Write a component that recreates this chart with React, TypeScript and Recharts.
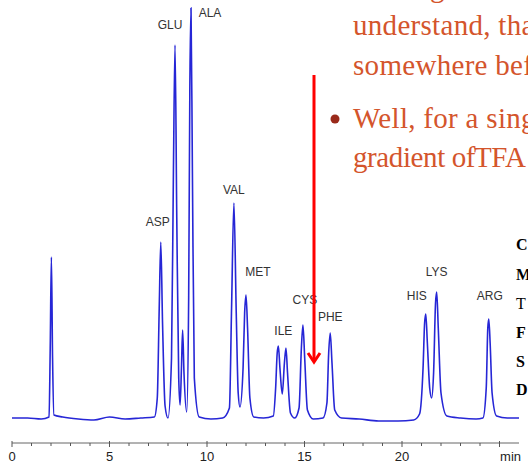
import React from "react"
import { LineChart, Line, XAxis, YAxis, LabelList } from "recharts"

// detector trace: [time (min), signal]
const trace: [number, number][] = [
  [0, 0], [0.8, 0], [1.5, -1], [1.9, 1], [1.96, 70], [2.02, 161], [2.08, 60], [2.15, 3],
  [2.6, 1], [3.4, -1], [4.2, -2], [5.0, 1], [5.8, -1], [6.6, 0], [7.3, 1],
  [7.45, 20], [7.55, 110], [7.63, 176], [7.72, 95], [7.85, 12], [8.0, 0],
  [8.18, 60], [8.28, 250], [8.36, 373], [8.45, 200], [8.55, 40], [8.62, 13],
  [8.69, 50], [8.75, 88], [8.82, 45], [8.96, 6],
  [9.06, 120], [9.12, 330], [9.18, 410], [9.25, 250], [9.35, 40], [9.6, 1],
  [10.2, -1], [10.8, 0], [11.15, 10], [11.26, 110], [11.38, 215], [11.5, 105], [11.6, 25], [11.69, 11],
  [11.85, 50], [11.93, 105], [12.0, 123], [12.08, 90], [12.2, 20], [12.4, 1],
  [12.9, 0], [13.4, 2], [13.52, 30], [13.6, 65], [13.66, 72], [13.74, 50], [13.86, 24],
  [13.97, 55], [14.05, 70], [14.13, 45], [14.28, 5], [14.5, 0],
  [14.72, 10], [14.84, 70], [14.92, 93], [15.01, 60], [15.15, 8], [15.45, -1],
  [15.95, 0], [16.15, 15], [16.24, 65], [16.32, 85], [16.41, 55], [16.55, 8], [16.9, 0],
  [17.8, -1], [18.8, -3], [19.8, -3], [20.6, -2], [20.9, 4],
  [21.08, 50], [21.16, 95], [21.22, 104], [21.3, 75], [21.42, 30], [21.52, 20],
  [21.62, 45], [21.72, 115], [21.78, 126], [21.86, 90], [22.0, 25], [22.3, 2],
  [23.0, 0], [23.8, -1], [24.15, 0], [24.32, 30], [24.4, 90], [24.45, 99],
  [24.52, 75], [24.62, 25], [24.85, 2], [25.4, 0], [26, 0],
]

const peakNames = ["ASP", "GLU", "ALA", "VAL", "MET", "ILE", "CYS", "PHE", "HIS", "LYS", "ARG"]
const peakTimes = [7.63, 8.36, 9.18, 11.38, 12.0, 13.66, 14.92, 16.32, 21.22, 21.78, 24.45]
const peakHeights = [176, 373, 410, 215, 123, 72, 93, 85, 104, 126, 99]

const timeTicks = [0, 1, 2, 3, 4, 5, 6, 7, 8, 9, 10, 11, 12, 13, 14, 15, 16, 17, 18, 19, 20, 21, 22, 23, 24, 25, 26]
const labelledTimes = [0, 5, 10, 15, 20]

// where each peak name sits relative to the peak top (px)
const labelShift: Record<string, [number, number]> = {
  ASP: [-3, -20], GLU: [-5, -20], ALA: [19, 5], VAL: [0, -13], MET: [12, -23],
  ILE: [5, -15], CYS: [2, -25], PHE: [0, -16], HIS: [-9, -18], LYS: [0, -20], ARG: [1, -23],
}

const traceData = trace.map(([t, v]) => ({ t, v }))
const peakData = peakNames.map((name, i) => ({ name, t: peakTimes[i], v: peakHeights[i] }))

const PeakLabel = (props: any) => {
  const { x, y, value } = props
  const [dx, dy] = labelShift[value] || [0, -15]
  return (
    <text x={x + dx} y={y + dy} dy="0.35em" textAnchor="middle" fontSize={12}
      fontFamily="Liberation Sans, Arial, sans-serif" fill="#333">
      {value}
    </text>
  )
}

const TimeTick = (props: any) => {
  const { x, y, payload } = props
  const v = payload.value
  const font = "Liberation Sans, Arial, sans-serif"
  if (v === 26) {
    return <text x={x + 2} y={y + 18} textAnchor="end" fontSize={13} fontFamily={font} fill="#222">min</text>
  }
  const major = v % 5 === 0
  return (
    <g>
      <line x1={x} x2={x} y1={y - (major ? 2 : 0)} y2={y + (major ? 4 : 3)} stroke="#555" strokeWidth={1} />
      {labelledTimes.includes(v) && (
        <text x={x} y={y + 18} textAnchor="middle" fontSize={13} fontFamily={font} fill="#222">{v}</text>
      )}
    </g>
  )
}

const slideText = "#d4552c"
const serif = "Liberation Serif, Times New Roman, serif"

export default function App() {
  return (
    <div style={{ position: "absolute", left: 0, top: 0, width: 528, height: 466, overflow: "hidden", background: "#fff" }}>
      <LineChart width={528} height={466} data={traceData} margin={{ top: 3, right: 9, bottom: 0, left: 12 }}>
        <XAxis dataKey="t" type="number" domain={[0, 26]} ticks={timeTicks} interval={0}
          height={23} tickSize={0} tickMargin={0} tickLine={false}
          axisLine={{ stroke: "#666" }} tick={<TimeTick />} allowDataOverflow />
        <YAxis hide domain={[-25, 415]} allowDataOverflow />
        <Line type="monotone" dataKey="v" stroke="#2626d6" strokeWidth={1.6} dot={false} isAnimationActive={false} />
        <Line data={peakData} dataKey="v" stroke="none" dot={false} activeDot={false} isAnimationActive={false}>
          <LabelList dataKey="name" content={<PeakLabel />} />
        </Line>
      </LineChart>
      <svg width={528} height={466} style={{ position: "absolute", left: 0, top: 0, pointerEvents: "none" }}>
        <g fontFamily={serif} fontSize={29} letterSpacing={0.3} fill={slideText}>
          <text x={430} y={-3}>g</text>
          <text x={353} y={35}>understand, tha</text>
          <text x={353} y={75}>somewhere bef</text>
          <text x={353} y={128}>Well, for a sing</text>
          <text x={353} y={167} letterSpacing={-0.4}>
            gradient of<tspan dx={-1}>TFA</tspan>
          </text>
        </g>
        <circle cx={335} cy={119} r={4.5} fill="#9a2a1a" />
        <g fontFamily={serif} fontSize={16} fill="#000" fontWeight="bold">
          <text x={516} y={250}>C</text>
          <text x={516} y={280}>M</text>
          <text x={516} y={309} fontWeight="normal">T</text>
          <text x={516} y={338}>F</text>
          <text x={516} y={367}>S</text>
          <text x={516} y={395}>D</text>
        </g>
        <line x1={314} y1={75} x2={314} y2={361} stroke="#ff0000" strokeWidth={3} />
        <polyline points="308,353 314,362 320,353" fill="none" stroke="#ff0000" strokeWidth={3} />
      </svg>
    </div>
  )
}
